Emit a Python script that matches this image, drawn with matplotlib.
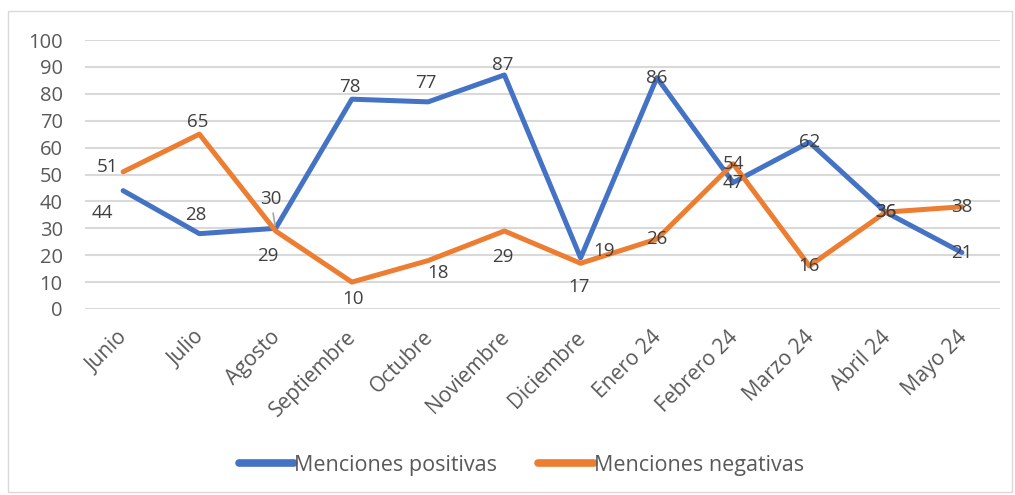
import matplotlib
matplotlib.use("Agg")
import matplotlib.pyplot as plt
from matplotlib.patches import Rectangle
from matplotlib.transforms import ScaledTranslation

plt.rcParams['font.family'] = ['Open Sans', 'DejaVu Sans']

months = ["Junio", "Julio", "Agosto", "Septiembre", "Octubre", "Noviembre",
          "Diciembre", "Enero 24", "Febrero 24", "Marzo 24", "Abril 24", "Mayo 24"]
positivas = [44, 28, 30, 78, 77, 87, 19, 86, 47, 62, 36, 21]
negativas = [51, 65, 29, 10, 18, 29, 17, 26, 54, 16, 36, 38]
yticks = [0, 10, 20, 30, 40, 50, 60, 70, 80, 90, 100]

# label offsets in pixels (dx, dy; dy positive = upwards)
pos_off = [(-21, -22), (-4, 19), (-5, 29), (-2, 12), (-2, 19), (-2, 10),
           (23, 7), (0, 0), (0, 0), (0, 0), (0, 0), (0, 0)]
neg_off = [(-16, 5), (-2, 12), (-8, -25), (1, -17), (10, -12), (-2, -26),
           (-2, -24), (0, 0), (0, 0), (0, 0), (0, 0), (0, 0)]

BLUE = "#4472C4"
ORANGE = "#ED7D31"
GRID = "#D9D9D9"
TXT = "#595959"
LBL = "#404040"

fig = plt.figure(figsize=(10.15, 4.95), dpi=100)
fig.patches.append(Rectangle((8 / 1015, 3 / 495), 1004 / 1015, 481 / 495,
                             transform=fig.transFigure, fill=False,
                             edgecolor="#D9D9D9", linewidth=1.0))
ax = fig.add_axes([85 / 1015, 1 - 309 / 495, 915 / 1015, 269 / 495])

x = list(range(len(months)))
lp, = ax.plot(x, positivas, color=BLUE, lw=3.6, solid_joinstyle='round',
              solid_capstyle='round', label="Menciones positivas", zorder=3)
ln, = ax.plot(x, negativas, color=ORANGE, lw=3.6, solid_joinstyle='round',
              solid_capstyle='round', label="Menciones negativas", zorder=3)

ax.set_xlim(-0.5, len(months) - 0.5)
ax.set_ylim(0, 100)
ax.set_yticks(yticks)
ax.set_yticklabels([str(v) for v in yticks])
ax.set_xticks(x)
ax.set_xticklabels(months, rotation=45, ha='right', va='top')
ax.tick_params(axis='y', length=0, pad=16, labelsize=14.5, labelcolor=TXT)
ax.tick_params(axis='x', length=0, pad=13, labelsize=15, labelcolor=TXT)
shift = ScaledTranslation(9 / 100, 0, fig.dpi_scale_trans)
for lab in ax.get_xticklabels():
    lab.set_transform(lab.get_transform() + shift)
for s in ax.spines.values():
    s.set_visible(False)
ax.yaxis.grid(True, color=GRID, lw=1.5)
ax.set_axisbelow(True)
ax.set_facecolor("none")

for xi, v, (dx, dy) in zip(x, positivas, pos_off):
    ax.annotate(str(v), (xi, v), xytext=(dx, dy), textcoords='offset pixels',
                ha='center', va='center', fontsize=13.5, color=LBL, zorder=5)
for xi, v, (dx, dy) in zip(x, negativas, neg_off):
    ax.annotate(str(v), (xi, v), xytext=(dx, dy), textcoords='offset pixels',
                ha='center', va='center', fontsize=13.5, color=LBL, zorder=5)
# leader line for Agosto positive label
ax.annotate("", (2, positivas[2]), xytext=(-3, 18), textcoords='offset pixels',
            arrowprops=dict(arrowstyle='-', color='#A6A6A6', lw=1.2), zorder=4)

leg = fig.legend(handles=[lp, ln], loc='center', bbox_to_anchor=(521.5 / 1015, 1 - 465 / 495),
                 ncol=2, frameon=False, fontsize=15.5, handlelength=2.6,
                 handletextpad=0.0, columnspacing=1.9, labelcolor=TXT)
for h in leg.legend_handles:
    h.set_linewidth(5.5)
    h.set_solid_capstyle('round')

fig.savefig("out.png", dpi=100, facecolor="white")
